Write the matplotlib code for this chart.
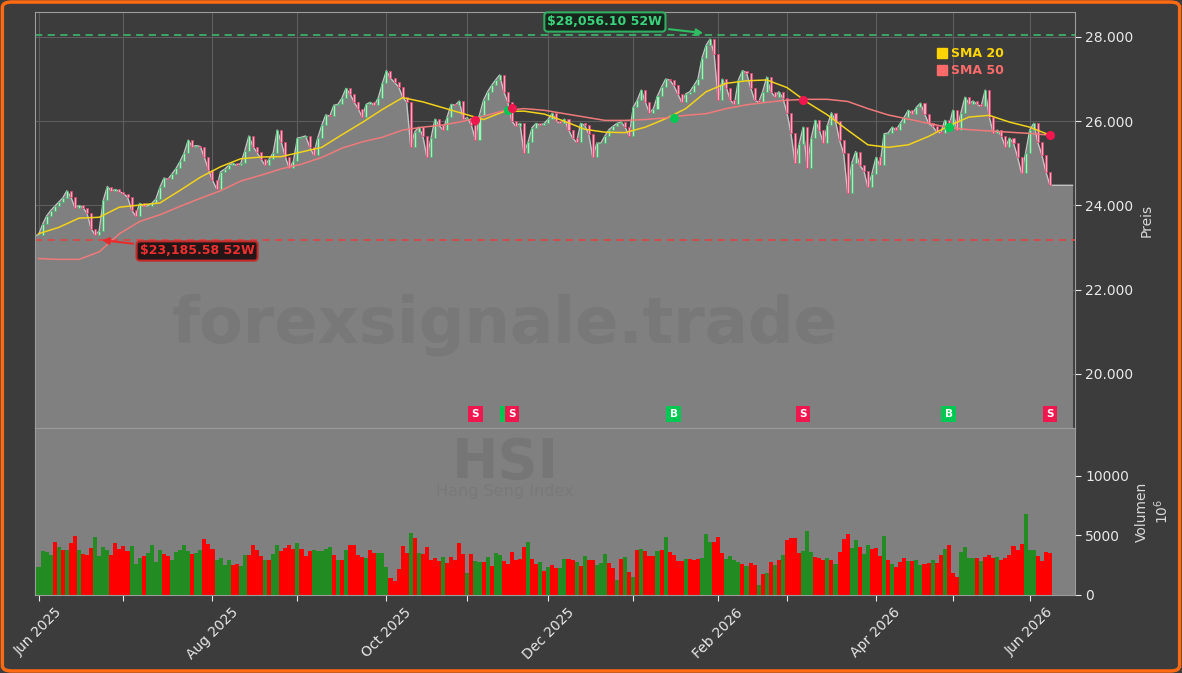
import numpy as np
import pandas as pd
import matplotlib

matplotlib.use("Agg")
from matplotlib import pyplot as plt
from matplotlib.lines import Line2D
from matplotlib.patches import FancyBboxPatch
from matplotlib.ticker import FuncFormatter, FixedLocator

# Hong Kong exchange holidays inside the window
holidays = ["2025-07-01", "2025-10-01", "2025-10-07", "2025-10-29", "2025-12-25",
            "2025-12-26", "2026-01-01", "2026-02-17", "2026-02-18", "2026-02-19",
            "2026-04-03", "2026-04-06", "2026-04-07", "2026-05-01", "2026-05-25"]

# daily closes (first value = 2025-05-30)
close = [23290,
         23300, 23550, 23750, 23880, 23980, 24080, 24180, 24350, 24200, 23950,
         24000, 23950, 23810, 23450, 23300, 23400, 24120, 24450, 24350, 24380,
         24330, 24280, 24200, 23900, 23750, 24050, 23980, 23990, 24050, 24150,
         24430, 24650, 24620, 24750, 24880, 25050, 25250, 25550, 25400, 25420,
         25400, 25140, 24850, 24600, 24400, 24800, 24860, 24950, 25000, 24950,
         25000, 25300, 25650, 25400, 25260, 25100, 24950, 25100, 25250, 25790,
         25500, 25150, 24880, 25050, 25600, 25620, 25650, 25400, 25200, 25600,
         25900, 26150, 26120, 26380, 26400, 26550, 26780, 26650, 26450, 26300,
         26100, 26400, 26450, 26380, 26560, 26900, 27200, 27020, 26920, 26820,
         26570, 26450, 25400, 25750, 25860, 25650, 25140, 25600, 26050, 25900,
         25790, 26100, 26400, 26380, 26480, 26050, 26080, 25900, 25550, 26150,
         26500, 26700, 26850, 26980, 27100, 26700, 26450, 26000, 25880, 25950,
         25250, 25500, 25850, 25950, 25900, 25950, 26050, 26190, 26000, 25950,
         26050, 25800, 25600, 25500, 25950, 25900, 25700, 25140, 25480, 25480,
         25650, 25800, 25880, 25950, 25980, 25860, 25650, 26330, 26500, 26740,
         26450, 26200, 26300, 26600, 26810, 27000, 26980, 26850, 26650, 26450,
         26650, 26700, 26850, 27000, 27500, 27800, 27950, 27600, 26500, 27000,
         26800, 26500, 26400, 26980, 27200, 27150, 26800, 26500, 26450, 26700,
         27050, 26700, 26580, 26700, 26550, 26200, 25710, 25000, 25450, 25860,
         24900, 25600, 26020, 25790, 25480, 25900, 26200, 26000, 25550, 25240,
         24300, 25000, 25280, 24950, 24830, 24430, 24750, 25140, 24950, 25700,
         25720, 25860, 25790, 25950, 26100, 26260, 26180, 26330, 26430, 26180,
         25950, 25880, 25750, 25720, 26020, 25860, 26260, 25790, 26200, 26570,
         26420, 26480, 26400, 26350, 26740, 26100, 25710, 25790, 25650, 25380,
         25600, 25480, 25150, 24760, 25250, 25790, 25950, 25500, 25200, 24800,
         24480]

# volume in millions
volume = [5380, 2350, 3700, 3600, 3360, 4450, 4030, 3780, 3780, 4400,
          4960, 3800, 3420, 3360, 3920, 4870, 3260, 4000, 3780, 3360,
          4370, 3860, 4090, 3700, 4090, 2610, 3120, 3260, 3530, 4200,
          2800, 3800, 3420, 3300, 2940, 3640, 3800, 4170, 3700, 3420,
          3570, 3750, 4730, 4310, 3860, 2910, 3120, 2520, 2970, 2520,
          2610, 2440, 3360, 3360, 4200, 3780, 3260, 2970, 2900, 3420,
          4200, 3700, 3950, 4200, 3870, 4370, 3870, 3260, 3700, 3780,
          3700, 3700, 3870, 4030, 3360, 2940, 2940, 3780, 4200, 4200,
          3360, 3190, 3120, 3780, 3530, 3530, 3530, 2350, 1400, 1200,
          2180, 4120, 3530, 5210, 4760, 3530, 3450, 4030, 2940, 3110,
          2860, 3190, 2690, 3190, 2940, 4370, 3450, 1850, 3450, 2860,
          2770, 2770, 3190, 2440, 3530, 3360, 2860, 2610, 3610, 2940,
          3030, 4030, 4450, 3030, 2610, 2770, 2020, 2350, 2520, 2270,
          2270, 3030, 3030, 2940, 2770, 2440, 3280, 2940, 2940, 2520,
          2690, 3450, 2690, 2270, 1260, 3030, 3190, 1930, 1510, 3780,
          3870, 3700, 3280, 3280, 3700, 3780, 4870, 3610, 3360, 2860,
          2860, 3030, 3030, 2940, 3030, 3110, 5140, 4450, 4450, 4870,
          3530, 3030, 3280, 2940, 2770, 2610, 2440, 2690, 2520, 840,
          1760, 1850, 2770, 2520, 2940, 3360, 4620, 4760, 4760, 3530,
          3700, 5380, 3610, 3190, 3110, 2940, 3110, 2940, 2610, 3610,
          4700, 5130, 3950, 4620, 4030, 3450, 4200, 3870, 3950, 3280,
          4930, 2940, 2610, 2350, 2770, 3110, 2860, 2860, 2940, 2520,
          2610, 2690, 2940, 2690, 3360, 3870, 4200, 1850, 1510, 3610,
          4030, 3110, 3110, 3110, 2860, 3190, 3360, 3110, 3190, 2940,
          3110, 3360, 4120, 3780, 4290, 6810, 3780, 3780, 3280, 2860,
          3610, 3500]
# bar colour per session, G = up day, R = down day
vol_dir = "".join([
    "RGGGGRGRGR", "RGRRRGGGGR", "RRRRGGGRGG", "GGRRGGGGGR", "GGRRRGGGGR",
    "RGGRRRRGRG", "GRRRRGRRRG", "GGGGRGRGRR", "RRGRRGGGRR", "RRRGRGRRRR",
    "RGRRRRRGRG", "GRGRGGRRRR", "RRGRRGRGRR", "GGRRGRGRRG", "GGRRGRGRGR",
    "GRRRGRGRRR", "RGRRRGGGRR", "RGGGGRGRRG", "RGRGRGRRRR", "GGGRRRGRGR",
    "RRGGRGGRRR", "GRGRRRGRGG", "RRGRRGRRRG", "GGGRGRRRGR", "RRRRRGGGRR",
    "RR"])

# moving averages read every 5 sessions
sma_idx = list(range(0, 251, 5))
sma20 = [23330, 23480, 23700, 23720, 23960, 24010, 24060, 24360, 24670, 24920,
         25110, 25150, 25160, 25270, 25380, 25680, 25970, 26280, 26560, 26460,
         26320, 26180, 26040, 26230, 26240, 26170, 26000, 25810, 25740, 25730,
         25860, 26060, 26300, 26700, 26900, 26960, 26980, 26800, 26450, 26150,
         25790, 25440, 25380, 25440, 25640, 25890, 26100, 26140, 25980, 25860,
         25670]
sma50 = [22740, 22720, 22720, 22900, 23330, 23620, 23780, 23980, 24170, 24350,
         24580, 24720, 24870, 24980, 25140, 25360, 25510, 25620, 25790, 25860,
         25910, 26000, 26120, 26250, 26300, 26260, 26180, 26100, 26020, 26020,
         26040, 26080, 26140, 26180, 26300, 26390, 26450, 26500, 26520, 26520,
         26470, 26300, 26150, 26050, 25950, 25850, 25800, 25770, 25740, 25710,
         25670]

# SMA crossings
sig_idx = [108, 116, 117, 157, 189, 225, 250]
sig_type = ["S", "B", "S", "B", "S", "B", "S"]
sig_price = [26020, 26260, 26310, 26070, 26500, 25860, 25670]

high52, high52_idx = 28056.10, 165
low52, low52_idx = 23185.58, 15

BG = "#3c3c3c"
AREA = "#808080"
UP_C, DN_C = "#00c853", "#f0174f"

dates = pd.bdate_range("2025-05-30", "2026-06-08")
dates = dates[~dates.isin(pd.to_datetime(holidays))]
x = np.arange(len(dates)) - 1
c = np.array(close, dtype=float)
o = np.r_[c[0], c[:-1]]

fig = plt.figure(figsize=(11.82, 6.73), dpi=100, facecolor=BG)
ax = fig.add_axes([35 / 1182, 245 / 673, 1040 / 1182, 416 / 673], facecolor=BG)
axv = fig.add_axes([35 / 1182, 78 / 673, 1040 / 1182, 167 / 673], facecolor=AREA, sharex=ax)

ymin, ymax = 18718, 28593
ax.set_ylim(ymin, ymax)
ax.set_xlim(-0.87, 256.2)

# area under the close
xa = np.r_[x, 255.6]
ya = np.r_[c, c[-1]]
ax.fill_between(xa, ya, ymin, color=AREA, zorder=1, lw=0)
ax.plot(xa, ya, color="#c4c4c4", lw=1, zorder=1.5)

# candles
up = c >= o
body_lo = np.minimum(o, c)
body_h = np.maximum(np.abs(c - o), 12)
ax.bar(x[up], body_h[up], bottom=body_lo[up], width=0.5, color="#b4e8c0",
       edgecolor="#3cb86a", lw=0.5, zorder=3)
ax.bar(x[~up], body_h[~up], bottom=body_lo[~up], width=0.5, color="#ffa6bd",
       edgecolor="#e0406e", lw=0.5, zorder=3)

# moving averages
ax.plot(sma_idx, sma20, color="#f2d21b", lw=1.1, zorder=4)
ax.plot(sma_idx, sma50, color="#f07a7a", lw=1.1, zorder=4)

# 52 week levels
ax.axhline(high52, color="#3dae6a", ls=(0, (4, 3)), lw=1.3, zorder=2)
ax.axhline(low52, color="#d94848", ls=(0, (4, 3)), lw=1.3, zorder=2)
ax.annotate(r"\$28,056.10 52W", xy=(high52_idx, high52 + 30), xytext=(140, 28356),
            ha="center", va="center", color="#39d47c", fontsize=9, fontweight="bold",
            bbox=dict(boxstyle="round,pad=0.25", fc="#18241c", ec="#2fae62", lw=1.5),
            arrowprops=dict(arrowstyle="-|>", color="#2fbf62", lw=1.5, mutation_scale=10),
            zorder=6)
ax.annotate(r"\$23,185.58 52W", xy=(low52_idx, low52), xytext=(39.2, 22920),
            ha="center", va="center", color="#f03030", fontsize=9, fontweight="bold",
            bbox=dict(boxstyle="round,pad=0.25", fc="#241616", ec="#c42a2a", lw=1.5),
            arrowprops=dict(arrowstyle="-|>", color="#e82a2a", lw=1.5, mutation_scale=10),
            zorder=6)

# crossing dots and signal boxes
for i, t, p in zip(sig_idx, sig_type, sig_price):
    col = UP_C if t == "B" else DN_C
    ax.plot(i, p, "o", ms=5.5, color=col, mec=col, zorder=5)
    ax.text(i, 19050, t, ha="center", va="center", color="white", fontsize=7.5,
            fontweight="bold", zorder=5,
            bbox=dict(boxstyle="square,pad=0.32", fc=col, ec="none"))

# watermark
ax.text(0.452, 0.248, "forexsignale.trade", transform=ax.transAxes, ha="center",
        va="center", fontsize=46, fontweight="bold", color="#787878", zorder=2)

# legend
handles = [Line2D([], [], marker="s", ls="", color="#ffd400", ms=7),
           Line2D([], [], marker="s", ls="", color="#ff6b6b", ms=7)]
ax.legend(handles, ["SMA 20", "SMA 50"], loc="upper right", bbox_to_anchor=(0.936, 0.928),
          frameon=False, labelcolor=["#ffd400", "#ff6b6b"], prop={"weight": "bold", "size": 9},
          handlelength=0.6, handletextpad=0.4, borderaxespad=0, labelspacing=0.35)

# volume
vcol = ["#228b22" if d == "G" else "#ff0000" for d in vol_dir]
axv.bar(x, volume, width=1.0, color=vcol, lw=0, zorder=2)
axv.set_ylim(0, 14030)
axv.text(0.452, 0.70, "HSI", transform=axv.transAxes, ha="center", va="baseline",
         fontsize=40, fontweight="bold", color="#767676", zorder=1)
axv.text(0.452, 0.59, "Hang Seng Index", transform=axv.transAxes, ha="center",
         va="baseline", fontsize=11.5, color="#797979", zorder=1)

# month ticks
month_start = [k for k in range(1, len(dates)) if dates[k].month != dates[k - 1].month]
tick_pos = [x[k] for k in month_start]
tick_lab = [dates[k].strftime("%b %Y") if n % 2 == 0 else "" for n, k in enumerate(month_start)]
axv.xaxis.set_major_locator(FixedLocator(tick_pos))
axv.set_xticklabels(tick_lab, rotation=45)

fmt_price = FuncFormatter(lambda v, p: f"{v:,.0f}".replace(",", "."))
ax.yaxis.set_major_formatter(fmt_price)
ax.set_yticks([20000, 22000, 24000, 26000, 28000])
axv.set_yticks([0, 5000, 10000])

for a in (ax, axv):
    a.yaxis.tick_right()
    a.yaxis.set_label_position("right")
    a.tick_params(colors="#e8e8e8", labelsize=10, length=4)
    for s in a.spines.values():
        s.set_color("#9c9c9c")
ax.tick_params(axis="x", length=0, labelbottom=False)
axv.tick_params(axis="x", colors="#e8e8e8")

ax.grid(True, color="#5e5e5e", lw=0.8)
ax.set_axisbelow(True)

ax.set_ylabel("Preis", color="#d8d8d8", fontsize=10)
axv.set_ylabel("Volumen\n$10^6$", color="#d8d8d8", fontsize=10)

# orange frame
fig.patches.append(FancyBboxPatch((0.002, 0.003), 0.996, 0.994,
                                  boxstyle="round,pad=0,rounding_size=0.008",
                                  transform=fig.transFigure, fill=False,
                                  ec="#ff6a13", lw=2.5))

fig.savefig("out.png", dpi=100, facecolor=BG)
